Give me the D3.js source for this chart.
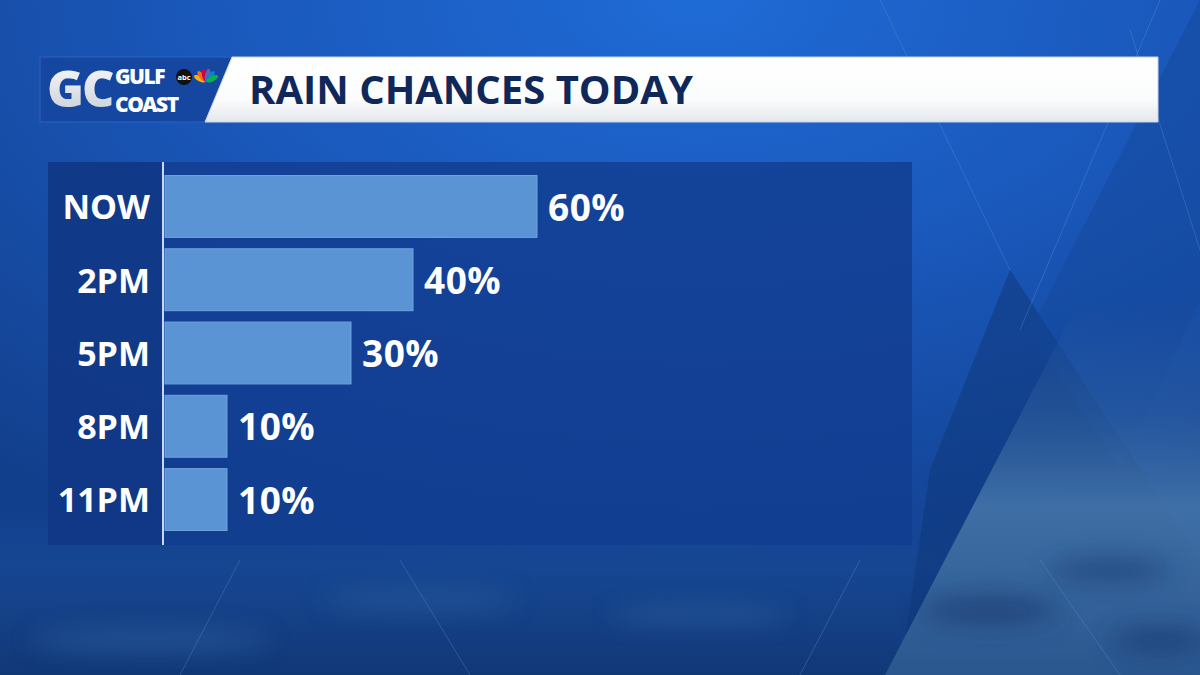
<!DOCTYPE html>
<meta charset="utf-8">
<style>
body { margin: 0; background: #0f3c86; }
svg { display: block; font-family: "Open Sans", "DejaVu Sans", sans-serif; }
</style>
<svg width="1200" height="675"></svg>
<script src="https://cdn.jsdelivr.net/npm/d3@7"></script>
<script>

var categories = ["NOW", "2PM", "5PM", "8PM", "11PM"];
var chances = [60, 40, 30, 10, 10];
var title = "RAIN CHANCES TODAY";

var svg = d3.select("svg"),
    W = +svg.attr("width"),
    H = +svg.attr("height");

var defs = svg.append("defs");

// background gradients
var bg = defs.append("radialGradient").attr("id", "bg")
    .attr("cx", 0.58).attr("cy", 0.0).attr("r", 0.9);
bg.append("stop").attr("offset", "0%").attr("stop-color", "#1f6bd6");
bg.append("stop").attr("offset", "45%").attr("stop-color", "#1a58bb");
bg.append("stop").attr("offset", "100%").attr("stop-color", "#123f8c");

var water = defs.append("linearGradient").attr("id", "water")
    .attr("x1", 0).attr("y1", 0).attr("x2", 0).attr("y2", 1);
water.append("stop").attr("offset", "0%").attr("stop-color", "#174a9c").attr("stop-opacity", 0);
water.append("stop").attr("offset", "35%").attr("stop-color", "#174792").attr("stop-opacity", 0.85);
water.append("stop").attr("offset", "100%").attr("stop-color", "#113876").attr("stop-opacity", 1);

var mist = defs.append("linearGradient").attr("id", "mist")
    .attr("x1", 0).attr("y1", 0).attr("x2", 0).attr("y2", 1);
mist.append("stop").attr("offset", "0%").attr("stop-color", "#3a68a0").attr("stop-opacity", 0);
mist.append("stop").attr("offset", "30%").attr("stop-color", "#3f6fa6").attr("stop-opacity", 0.35);
mist.append("stop").attr("offset", "55%").attr("stop-color", "#4677aa").attr("stop-opacity", 0.85);
mist.append("stop").attr("offset", "100%").attr("stop-color", "#2c5890").attr("stop-opacity", 0.95);

var whiteBar = defs.append("linearGradient").attr("id", "whiteBar")
    .attr("x1", 0).attr("y1", 0).attr("x2", 0).attr("y2", 1);
whiteBar.append("stop").attr("offset", "0%").attr("stop-color", "#ffffff");
whiteBar.append("stop").attr("offset", "65%").attr("stop-color", "#fbfcfd");
whiteBar.append("stop").attr("offset", "100%").attr("stop-color", "#e3e7ec");

var gcGrad = defs.append("linearGradient").attr("id", "gcGrad")
    .attr("x1", 0).attr("y1", 0).attr("x2", 0).attr("y2", 1);
gcGrad.append("stop").attr("offset", "0%").attr("stop-color", "#ffffff");
gcGrad.append("stop").attr("offset", "100%").attr("stop-color", "#c4cad3");

var blur = defs.append("filter").attr("id", "soft").attr("x", -0.3).attr("y", -0.5)
    .attr("width", 1.6).attr("height", 2);
blur.append("feGaussianBlur").attr("stdDeviation", 12);

svg.append("rect").attr("width", W).attr("height", H).attr("fill", "url(#bg)");

// decorative shapes
var deco = svg.append("g");
deco.append("rect").attr("x", 0).attr("y", 510).attr("width", W).attr("height", 165)
    .attr("fill", "url(#water)");
deco.append("polygon").attr("points", "1010,270 1200,560 1200,675 900,675 930,470")
    .attr("fill", "#0e3578").attr("opacity", 0.5);
deco.append("polygon").attr("points", "1200,0 1200,300 1120,470 1030,330")
    .attr("fill", "#15479a").attr("opacity", 0.45);
deco.append("polygon").attr("points", "1080,300 1200,300 1200,675 885,675")
    .attr("fill", "url(#mist)");
deco.append("g").attr("filter", "url(#soft)").attr("opacity", 0.55)
  .selectAll("ellipse")
  .data([[990, 610, 70, 16], [1110, 570, 60, 12], [1160, 640, 50, 14], [700, 615, 90, 8], [420, 600, 100, 8], [150, 640, 120, 10]])
  .enter().append("ellipse")
    .attr("cx", function(d) { return d[0]; })
    .attr("cy", function(d) { return d[1]; })
    .attr("rx", function(d) { return d[2]; })
    .attr("ry", function(d) { return d[3]; })
    .attr("fill", function(d, i) { return i < 3 ? "#17346c" : "#3566a6"; });
deco.selectAll("line.streak")
  .data([[1160, 0, 1020, 330], [1130, 30, 1200, 250], [880, 0, 1010, 270], [240, 560, 180, 675], [400, 560, 470, 675], [1040, 560, 1120, 675], [860, 560, 800, 675]])
  .enter().append("line")
    .attr("x1", function(d) { return d[0]; }).attr("y1", function(d) { return d[1]; })
    .attr("x2", function(d) { return d[2]; }).attr("y2", function(d) { return d[3]; })
    .attr("stroke", "#6f9ad8").attr("stroke-opacity", 0.3).attr("stroke-width", 1);

// header
var header = svg.append("g");
header.append("rect").attr("x", 40).attr("y", 57).attr("width", 200).attr("height", 65)
    .attr("fill", "#1547a0").attr("stroke", "#2a62c0").attr("stroke-width", 1);
header.append("polygon").attr("points", "232,57 1158,57 1158,122 205,122")
    .attr("fill", "url(#whiteBar)").attr("stroke", "#c9d3e0").attr("stroke-width", 1);
header.append("text").attr("x", 249).attr("y", 104)
    .attr("font-size", 40).attr("font-weight", 700).attr("fill", "#10275a")
    .text(title);

// logo
var logo = header.append("g").attr("font-weight", 800);
logo.append("text").attr("x", 47).attr("y", 107)
    .attr("font-size", 50).attr("fill", "url(#gcGrad)").text("G");
logo.append("text").attr("x", 82).attr("y", 107)
    .attr("font-size", 50).attr("fill", "url(#gcGrad)").text("C");
logo.append("text").attr("x", 115).attr("y", 84)
    .attr("font-size", 21).attr("letter-spacing", -1.5).attr("fill", "#ffffff").text("GULF");
logo.append("text").attr("x", 115).attr("y", 112)
    .attr("font-size", 21).attr("letter-spacing", -1.5).attr("fill", "#ffffff").text("COAST");
logo.append("circle").attr("cx", 184).attr("cy", 77).attr("r", 8).attr("fill", "#111");
logo.append("text").attr("x", 184).attr("y", 79.5).attr("text-anchor", "middle")
    .attr("font-size", 7.5).attr("font-weight", 700).attr("fill", "#fff").text("abc");
var peacock = ["#fbb40d", "#f37021", "#cc004c", "#6460aa", "#0089d0", "#0db14b"];
logo.selectAll("ellipse.feather")
  .data(peacock)
  .enter().append("ellipse")
    .attr("cx", 206).attr("cy", 75).attr("rx", 2.6).attr("ry", 6.5)
    .attr("fill", function(d) { return d; })
    .attr("transform", function(d, i) { return "rotate(" + (-62 + i * 25) + ",206,82)"; });

// chart panel
var panel = { x: 48, y: 162, w: 864, h: 383 };
svg.append("rect").attr("x", panel.x).attr("y", panel.y).attr("width", panel.w).attr("height", panel.h)
    .attr("fill", "#123d90").attr("opacity", 0.82);
svg.append("rect").attr("x", panel.x).attr("y", panel.y).attr("width", 115).attr("height", panel.h)
    .attr("fill", "#0f3580").attr("opacity", 0.6);

var x = d3.scaleLinear().domain([0, 100]).range([165, 785]);
var y = d3.scaleBand().domain(categories).range([170, 536])
    .paddingInner(0.155).paddingOuter(0.075);

var g = svg.append("g");

g.selectAll("rect.bar")
  .data(chances)
  .enter().append("rect")
    .attr("class", "bar")
    .attr("x", x(0))
    .attr("y", function(d, i) { return y(categories[i]); })
    .attr("width", function(d) { return x(d) - x(0); })
    .attr("height", y.bandwidth())
    .attr("fill", "#5a94d5")
    .attr("stroke", "#6ea3dd").attr("stroke-width", 1);

g.selectAll("text.value")
  .data(chances)
  .enter().append("text")
    .attr("class", "value")
    .attr("x", function(d) { return x(d) + 11; })
    .attr("y", function(d, i) { return y(categories[i]) + y.bandwidth() / 2; })
    .attr("dy", "0.38em")
    .attr("font-size", 37).attr("font-weight", 700).attr("fill", "#ffffff")
    .attr("letter-spacing", 0.5)
    .text(function(d) { return d + "%"; });

// category axis
var axis = g.append("g").attr("transform", "translate(163,0)")
    .call(d3.axisLeft(y).tickSize(0).tickPadding(13));
axis.select(".domain").remove();
axis.selectAll("text")
    .attr("font-size", 34).attr("font-weight", 700).attr("fill", "#ffffff")
    .attr("font-family", "'Open Sans', sans-serif")
    .attr("dy", "0.38em");
g.append("line").attr("x1", 163).attr("x2", 163).attr("y1", panel.y).attr("y2", panel.y + panel.h)
    .attr("stroke", "#c7d7f0").attr("stroke-width", 2);

</script>
